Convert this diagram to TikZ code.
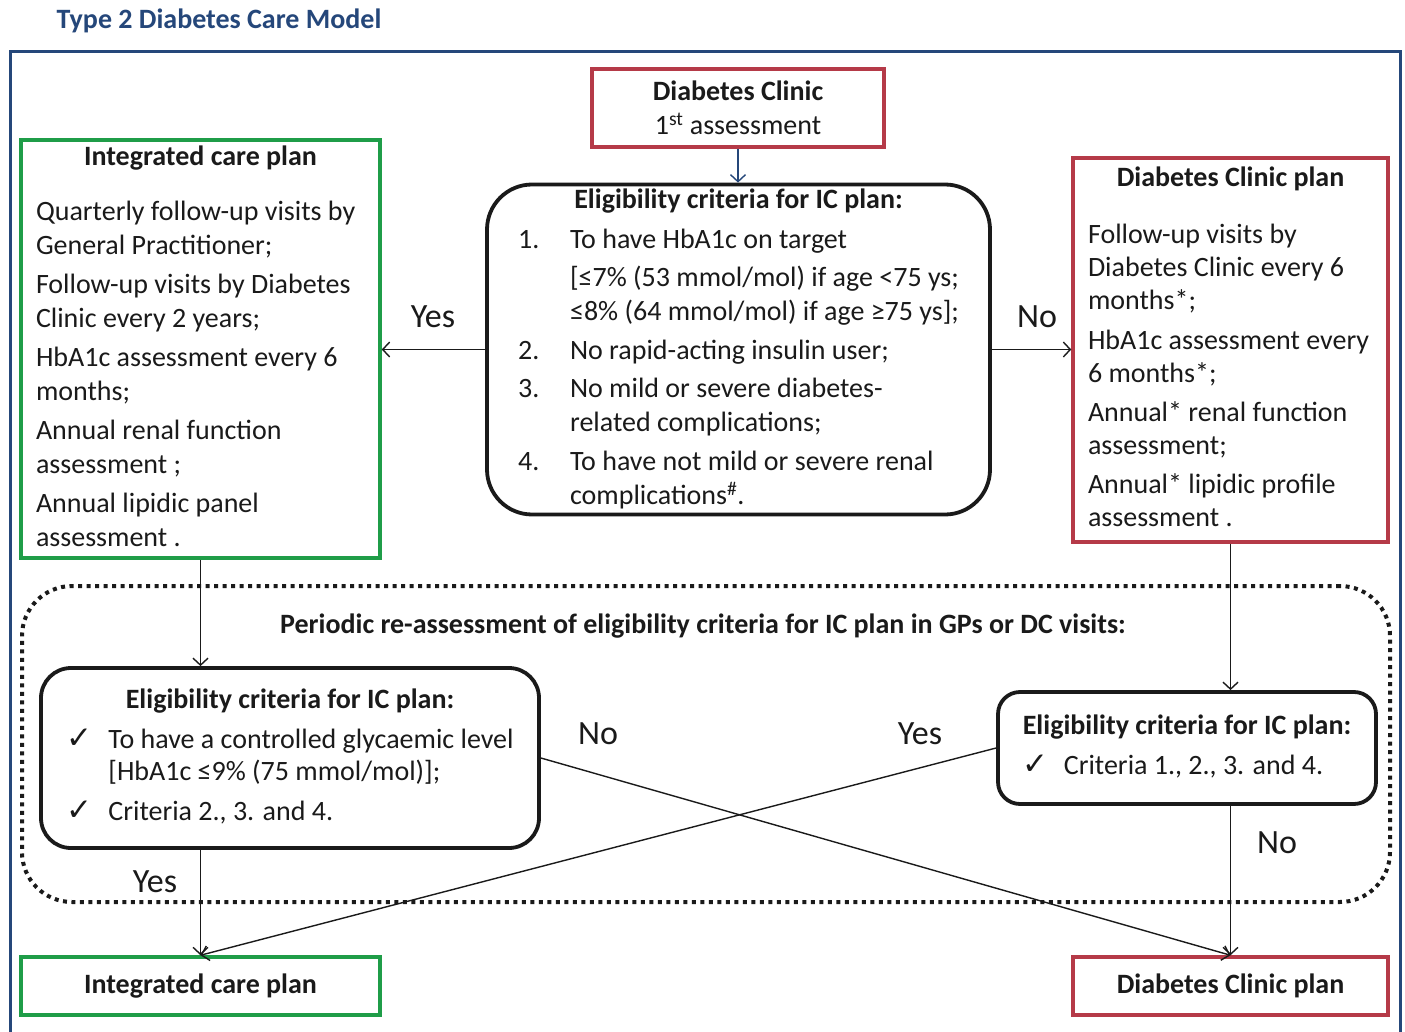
\documentclass[tikz,border=0pt]{standalone}
\usepackage{fontspec}
\setmainfont{Carlito}
\newfontfamily\symfont{DejaVu Sans}
\usetikzlibrary{arrows.meta}
\definecolor{ink}{HTML}{1A1A1A}
\definecolor{navy}{HTML}{25477A}
\definecolor{leaf}{HTML}{1F9D48}
\definecolor{brick}{HTML}{B53A48}
\newcommand{\tick}{{\symfont\fontsize{31}{31}\selectfont ✓}}

\begin{document}
\begin{tikzpicture}[x=1pt, y=-1pt,
    line width=1.4pt, >={Straight Barb[length=7pt,width=15pt]},
    color=ink,
    head/.style={font=\bfseries\fontsize{28}{32}\selectfont, text=ink, inner sep=0pt},
    answer/.style={font=\fontsize{34}{38}\selectfont, text=ink, inner sep=0pt},
    greenbox/.style={draw=leaf, line width=3.5pt, inner sep=0pt, text=ink},
    redbox/.style={draw=brick, line width=3.5pt, inner sep=0pt, text=ink},
    critbox/.style={draw=ink, line width=3.8pt, inner sep=0pt, rounded corners=#1},
    critbox/.default=25pt,
    zone/.style={draw=ink, line width=4pt, dash pattern=on 4pt off 4.5pt, rounded corners=50pt}]
  % page of 1405 x 1032, y grows downwards
  \path[use as bounding box, fill=white] (0,0) rectangle (1405,1032);

  % ================= title and frame =================
  \node[font=\bfseries\fontsize{28}{32}\selectfont, text=navy, anchor=west, inner sep=0pt] (title) at (56,21) {Type 2 Diabetes Care Model};
  \draw[navy, line width=3pt] (10,1045) -- (10,52) -- (1400,52) -- (1400,1045);

  % ================= first assessment =================
  \node[redbox, minimum width=292pt, minimum height=78pt, align=center, font=\fontsize{28}{34}\selectfont]
    (dc) at (738,108) {\bfseries Diabetes Clinic\\1\textsuperscript{st} assessment};

  \node[critbox=45pt, minimum width=503pt, minimum height=329pt, font=\fontsize{28}{34}\selectfont]
    (crit) at (738.5,349.5) {\begin{tabular}{@{}p{52pt}@{}l@{}}
      \multicolumn{2}{@{}c@{}}{\makebox[439pt]{\bfseries Eligibility criteria for IC plan:}}\\[6pt]
      1. & To have HbA1c on target\\[4pt]
         & [≤7\% (53 mmol/mol) if age <75 ys;\\
         & ≤8\% (64 mmol/mol) if age ≥75 ys];\\[5pt]
      2. & No rapid-acting insulin user;\\[4pt]
      3. & No mild or severe diabetes-\\
         & related complications;\\[5pt]
      4. & To have not mild or severe renal\\
         & complications\textsuperscript{\#}.
    \end{tabular}};

  % ================= the two plans =================
  \node[greenbox, minimum width=359pt, minimum height=418pt, font=\fontsize{28}{33.5}\selectfont]
    (icp) at (200.5,349) {\begin{tabular}{@{}l@{}}
      \multicolumn{1}{@{}c@{}}{\makebox[329pt]{\bfseries Integrated care plan}}\\[22pt]
      Quarterly follow-up visits by\\
      General Practitioner;\\[6pt]
      Follow-up visits by Diabetes\\
      Clinic every 2 years;\\[6pt]
      HbA1c assessment every 6\\
      months;\\[6pt]
      Annual renal function\\
      assessment ;\\[6pt]
      Annual lipidic panel\\
      assessment .
    \end{tabular}};

  \node[redbox, minimum width=315pt, minimum height=384pt, font=\fontsize{28}{33}\selectfont]
    (dcp) at (1230.5,350) {\begin{tabular}{@{}l@{}}
      \multicolumn{1}{@{}c@{}}{\makebox[285pt]{\bfseries Diabetes Clinic plan}}\\[24pt]
      Follow-up visits by\\
      Diabetes Clinic every 6\\
      months*;\\[7pt]
      HbA1c assessment every\\
      6 months*;\\[6pt]
      Annual* renal function\\
      assessment;\\[6pt]
      Annual* lipidic profile\\
      assessment .
    \end{tabular}};

  \draw[->, navy] (dc.south) -- (dc.south |- crit.north);
  \draw[->] (crit.west) -- (crit.west -| icp.east);
  \draw[->] (crit.east) -- (crit.east -| dcp.west);
  \node[answer] (yes top) at (433,317) {Yes};
  \node[answer] (no top) at (1037,317) {No};

  % ================= periodic re-assessment =================
  \node[zone, minimum width=1368pt, minimum height=316pt] (recheck) at (706,744) {};
  \node[head] (recheck title) at (703,626) {Periodic re-assessment of eligibility criteria for IC plan in GPs or DC visits:};

  \node[critbox=30pt, minimum width=498pt, minimum height=180pt, font=\fontsize{28}{32}\selectfont]
    (rl) at (290,758) {\begin{tabular}{@{}p{42pt}@{}l@{}}
      \multicolumn{2}{@{}c@{}}{\makebox[442pt]{\bfseries Eligibility criteria for IC plan:}}\\[8pt]
      \tick & To have a controlled glycaemic level\\
            & [HbA1c ≤9\% (75 mmol/mol)];\\[8pt]
      \tick & Criteria 2., 3. and 4.
    \end{tabular}};

  \node[critbox=22pt, minimum width=378pt, minimum height=112pt, font=\fontsize{28}{32}\selectfont]
    (rr) at (1187,748) {\begin{tabular}{@{}p{41pt}@{}l@{}}
      \multicolumn{2}{@{}c@{}}{\bfseries Eligibility criteria for IC plan:}\\[8pt]
      \tick & Criteria 1., 2., 3. and 4.
    \end{tabular}};

  % ================= outcomes =================
  \node[greenbox, minimum width=359pt, minimum height=58pt, font=\bfseries\fontsize{28}{32}\selectfont]
    (icp2) at (200.5,986) {Integrated care plan};
  \node[redbox, minimum width=315pt, minimum height=58pt, font=\bfseries\fontsize{28}{32}\selectfont]
    (dcp2) at (1230.5,986) {Diabetes Clinic plan};

  \draw[->] (icp.south) -- (icp.south |- rl.north);
  \draw[->] (dcp.south) -- (dcp.south |- rr.north);
  \draw[->] (icp2.north |- rl.south) -- (icp2.north);
  \draw[->] (rl.east) -- (dcp2.north);
  \draw[->] (rr.west) -- (icp2.north);
  \draw[->] (dcp2.north |- rr.south) -- (dcp2.north);
  \node[answer] (no left) at (598,734) {No};
  \node[answer] (yes right) at (920,734) {Yes};
  \node[answer] (yes down) at (155,882) {Yes};
  \node[answer] (no down) at (1277,843) {No};
\end{tikzpicture}
\end{document}
